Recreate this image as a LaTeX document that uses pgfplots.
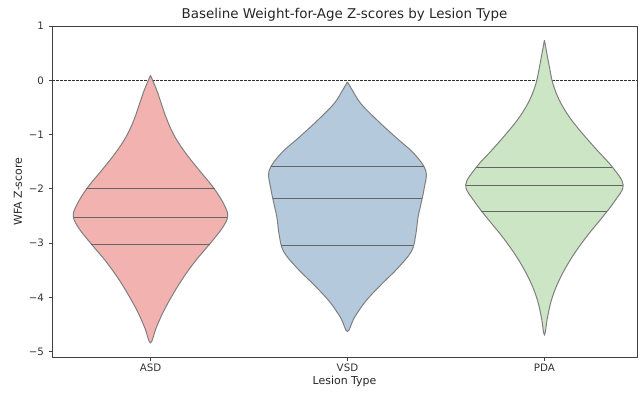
\documentclass[border=0pt]{standalone}
\usepackage{fontspec}
\setmainfont{DejaVu Sans}
\usepackage{pgfplots}
\usepackage{pgfplotstable}
\pgfplotsset{compat=1.18}

\definecolor{asdc}{HTML}{F2B3B0}
\definecolor{vsdc}{HTML}{B5C9DD}
\definecolor{pdac}{HTML}{CBE5C5}
\definecolor{edgec}{HTML}{7F7F7F}

% violin outlines: y = WFA z-score, d = signed horizontal offset from the category centre
\pgfplotstableread{
y d
0.09 0
-0.185 0.032
-0.43 0.055
-0.74 0.085
-1.05 0.125
-1.36 0.182
-1.67 0.25
-1.98 0.32
-2.28 0.372
-2.5 0.392
-2.72 0.365
-3.02 0.30
-3.33 0.228
-3.64 0.166
-3.95 0.113
-4.26 0.066
-4.57 0.028
-4.84 0
-4.57 -0.028
-4.26 -0.066
-3.95 -0.113
-3.64 -0.166
-3.33 -0.228
-3.02 -0.30
-2.72 -0.365
-2.5 -0.392
-2.28 -0.372
-1.98 -0.32
-1.67 -0.25
-1.36 -0.182
-1.05 -0.125
-0.74 -0.085
-0.43 -0.055
-0.185 -0.032
0.09 0
}\asd

\pgfplotstableread{
y d
-0.03 0
-0.185 0.025
-0.43 0.068
-0.74 0.152
-1.05 0.245
-1.36 0.34
-1.67 0.398
-1.98 0.39
-2.28 0.373
-2.53 0.358
-2.84 0.347
-3.15 0.325
-3.46 0.256
-3.77 0.17
-4.07 0.093
-4.38 0.034
-4.63 0
-4.38 -0.034
-4.07 -0.093
-3.77 -0.17
-3.46 -0.256
-3.15 -0.325
-2.84 -0.347
-2.53 -0.358
-2.28 -0.373
-1.98 -0.39
-1.67 -0.398
-1.36 -0.34
-1.05 -0.245
-0.74 -0.152
-0.43 -0.068
-0.185 -0.025
-0.03 0
}\vsd

\pgfplotstableread{
y d
0.74 0
0.5 0.012
0.25 0.025
-0.06 0.043
-0.37 0.076
-0.68 0.127
-0.99 0.195
-1.3 0.27
-1.6 0.345
-1.93 0.40
-2.22 0.358
-2.53 0.293
-2.84 0.223
-3.15 0.160
-3.46 0.107
-3.77 0.064
-4.07 0.034
-4.38 0.015
-4.69 0
-4.38 -0.015
-4.07 -0.034
-3.77 -0.064
-3.46 -0.107
-3.15 -0.160
-2.84 -0.223
-2.53 -0.293
-2.22 -0.358
-1.93 -0.40
-1.6 -0.345
-1.3 -0.27
-0.99 -0.195
-0.68 -0.127
-0.37 -0.076
-0.06 -0.043
0.25 -0.025
0.5 -0.012
0.74 0
}\pda

\begin{document}
\begin{tikzpicture}
\path[use as bounding box] (0,0) rectangle (639bp,394bp);
\begin{axis}[
  at={(52bp,37bp)}, anchor=south west,
  width=585bp, height=331bp, scale only axis,
  xmin=-0.5, xmax=2.47, ymin=-5.1, ymax=1.0,
  xtick={0,1,2}, xticklabels={ASD,VSD,PDA},
  ytick={-5,-4,-3,-2,-1,0,1},
  yticklabels={−5,−4,−3,−2,−1,0,1},
  tick align=outside, xtick pos=bottom, ytick pos=left,
  major tick length=3.5bp,
  tick style={black!75, line width=0.7bp},
  axis line style={black!75, line width=0.7bp},
  ticklabel style={font=\fontsize{10.3}{12}\selectfont, text=black!80},
  yticklabel style={xshift=-1bp},
  title={Baseline Weight-for-Age Z-scores by Lesion Type},
  title style={font=\fontsize{13.5}{15}\selectfont, text=black!85, yshift=-5bp},
  xlabel={Lesion Type}, ylabel={WFA Z-score},
  label style={font=\fontsize{11}{13}\selectfont, text=black!85},
  xlabel style={yshift=2bp},
]
% zero reference line
\addplot[black!80, line width=0.8bp, dash pattern=on 2.5bp off 1.5bp] coordinates {(-0.5,0) (2.47,0)};

% ASD
\addplot[fill=asdc, draw=edgec, line width=1bp, smooth, tension=0.6] table[x expr=0+\thisrow{d}, y=y] {\asd};
\addplot[edgec!80!black, line width=0.9bp] coordinates {(-0.325,-2.0) (0.325,-2.0)};
\addplot[edgec!80!black, line width=0.9bp] coordinates {(-0.39,-2.52) (0.39,-2.52)};
\addplot[edgec!80!black, line width=0.9bp] coordinates {(-0.30,-3.02) (0.30,-3.02)};

% VSD
\addplot[fill=vsdc, draw=edgec, line width=1bp, smooth, tension=0.6] table[x expr=1+\thisrow{d}, y=y] {\vsd};
\addplot[edgec!80!black, line width=0.9bp] coordinates {(0.61,-1.59) (1.39,-1.59)};
\addplot[edgec!80!black, line width=0.9bp] coordinates {(0.62,-2.17) (1.38,-2.17)};
\addplot[edgec!80!black, line width=0.9bp] coordinates {(0.665,-3.04) (1.335,-3.04)};

% PDA
\addplot[fill=pdac, draw=edgec, line width=1bp, smooth, tension=0.6] table[x expr=2+\thisrow{d}, y=y] {\pda};
\addplot[edgec!80!black, line width=0.9bp] coordinates {(1.655,-1.6) (2.345,-1.6)};
\addplot[edgec!80!black, line width=0.9bp] coordinates {(1.60,-1.93) (2.40,-1.93)};
\addplot[edgec!80!black, line width=0.9bp] coordinates {(1.68,-2.41) (2.32,-2.41)};
\end{axis}
\end{tikzpicture}
\end{document}
